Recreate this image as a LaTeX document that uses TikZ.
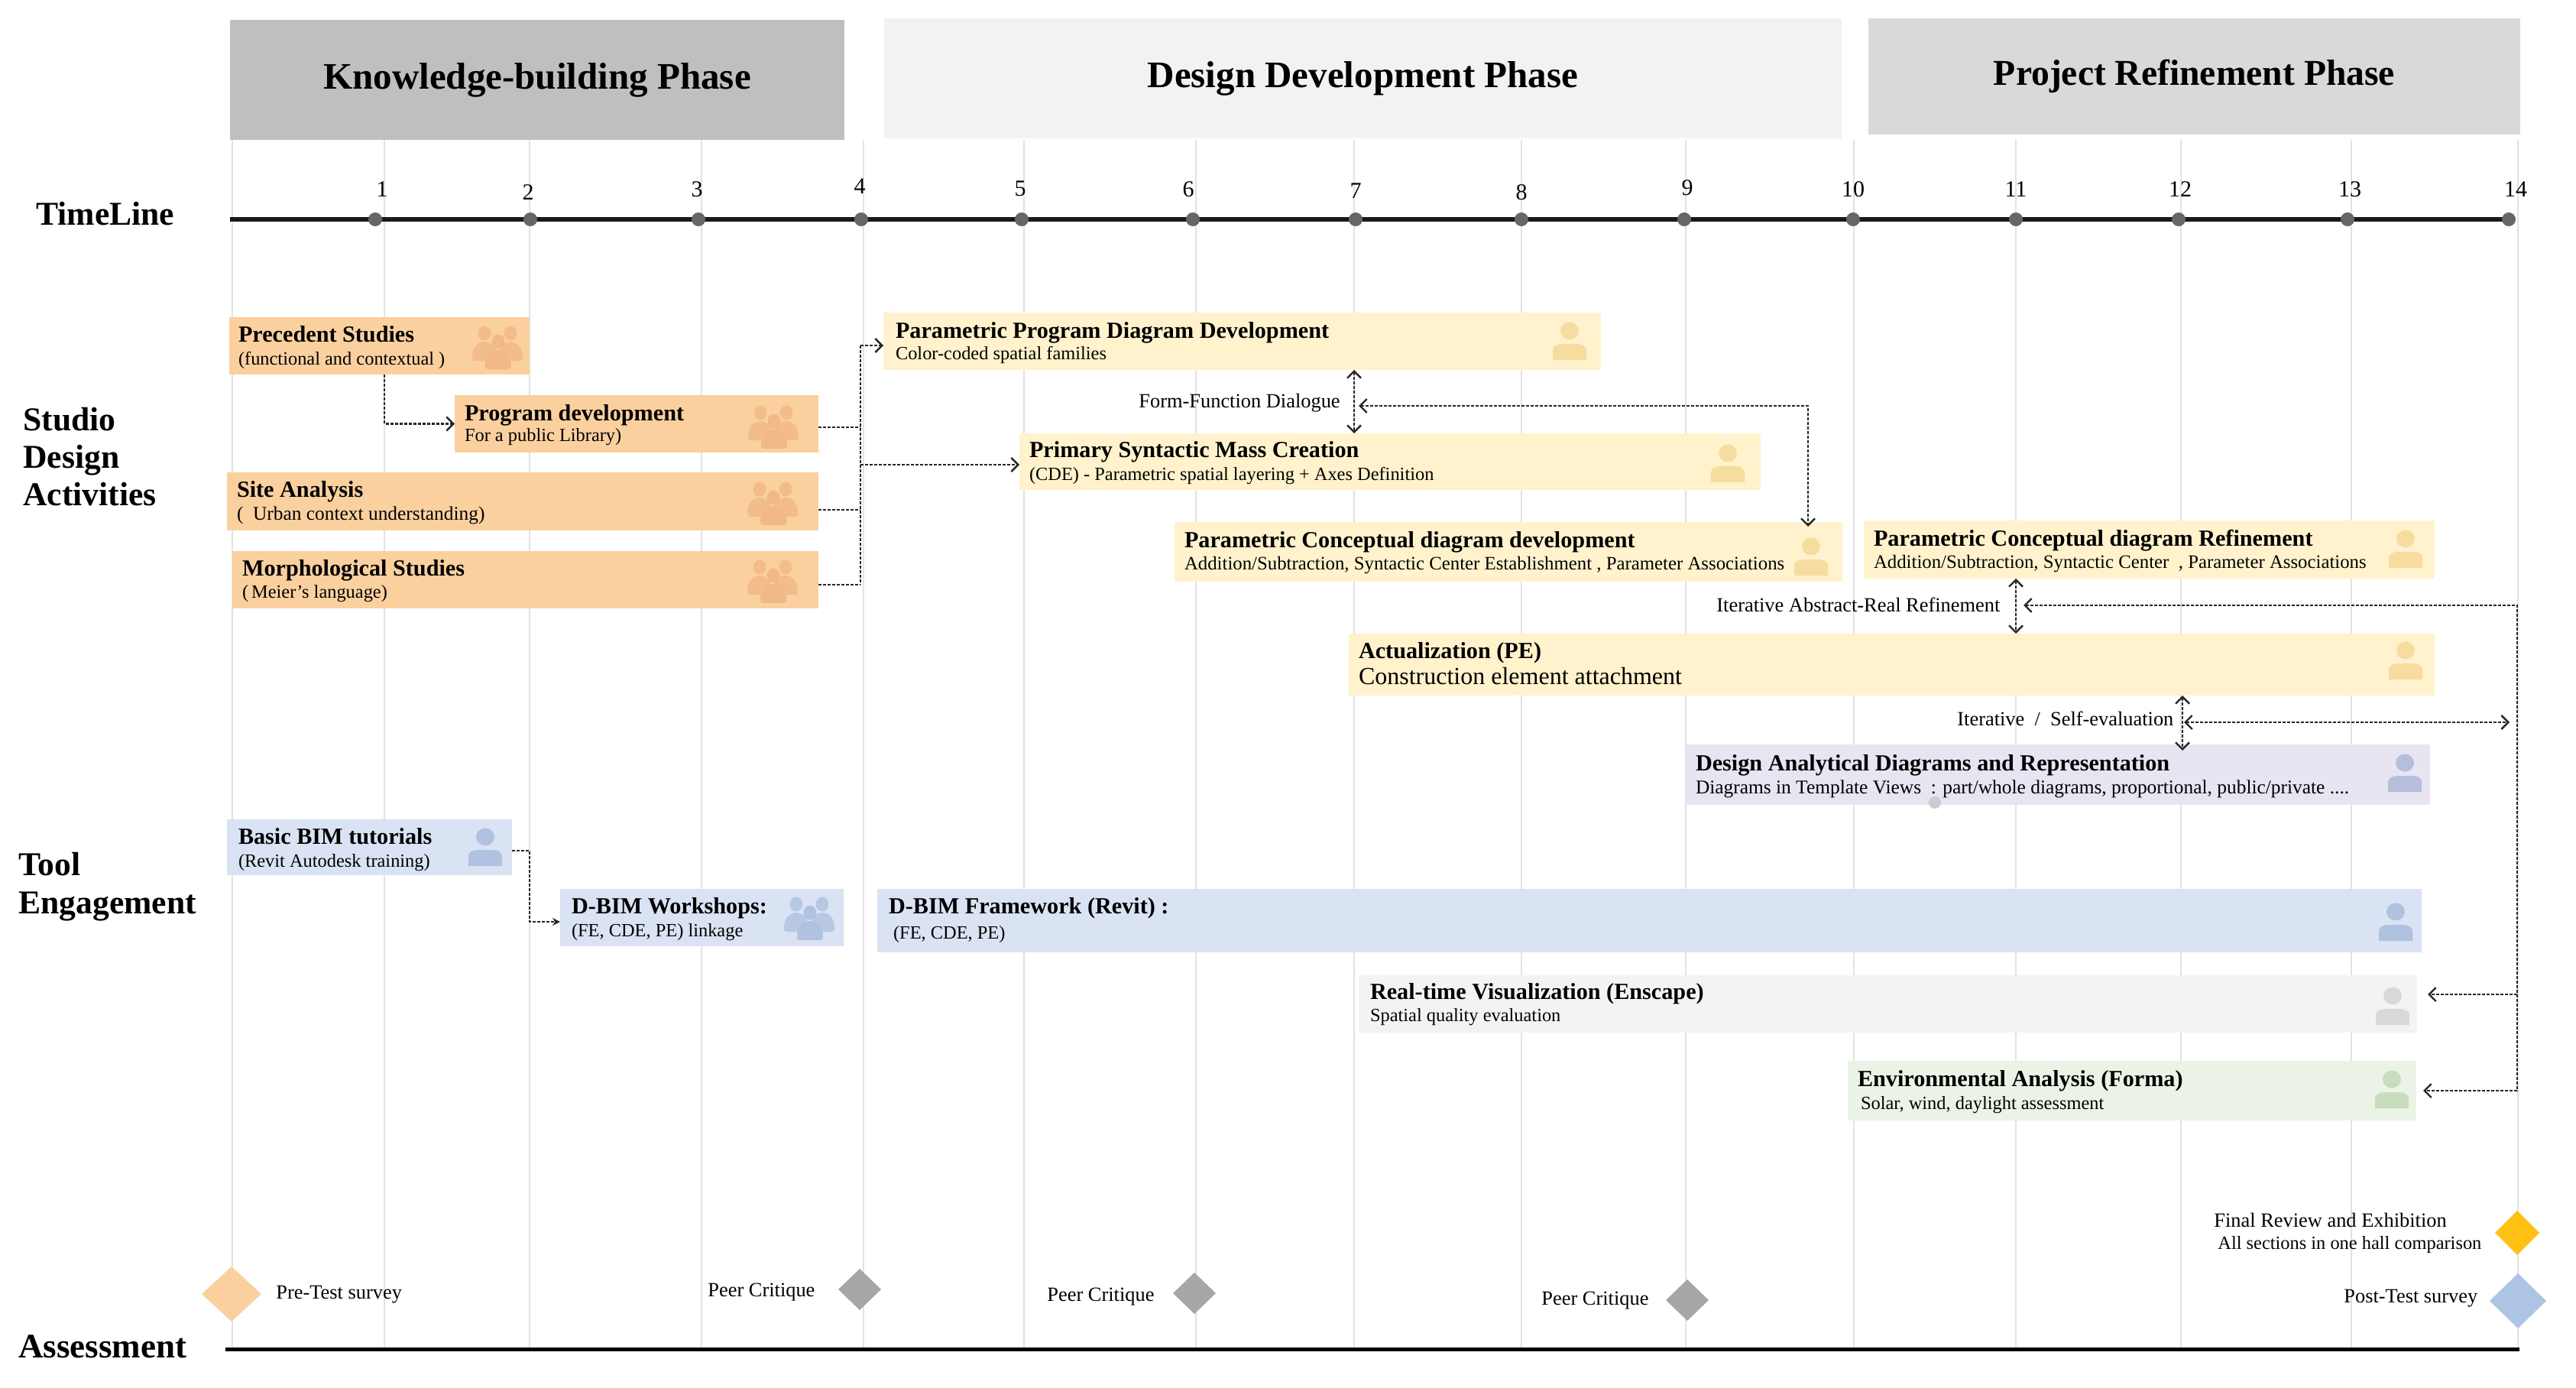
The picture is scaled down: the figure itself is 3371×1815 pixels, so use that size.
\documentclass[tikz,border=0pt]{standalone}
\usepackage{fontspec}
\setmainfont{Liberation Serif}
\usetikzlibrary{arrows.meta,shapes.geometric,calc}
\definecolor{orbox}{HTML}{FBD09F}
\definecolor{oricon}{HTML}{F0B987}
\definecolor{yebox}{HTML}{FFF2CC}
\definecolor{yeicon}{HTML}{F6DC9E}
\definecolor{blbox}{HTML}{DAE3F3}
\definecolor{blicon}{HTML}{B0C2DF}
\definecolor{pubox}{HTML}{E9E4F1}
\definecolor{puicon}{HTML}{B6BEDC}
\definecolor{grbox}{HTML}{F3F3F3}
\definecolor{gricon}{HTML}{D9D9D9}
\definecolor{gnbox}{HTML}{EAF3E5}
\definecolor{gnicon}{HTML}{C8DDBE}
\definecolor{gridc}{HTML}{E2E2E2}
\definecolor{goldgem}{HTML}{FFC014}
\definecolor{bluegem}{HTML}{AEC4E5}
\tikzset{
  x=0.5pt,y=-0.5pt,
  actstyle/.style={anchor=north west,inner sep=0pt,outer sep=0pt,fill=#1},
  phase/.style={anchor=north west,inner sep=0pt,outer sep=0pt,fill=#1,font=\fontsize{24.5}{26}\selectfont\bfseries,align=center},
  sidelabel/.style={anchor=base west,inner sep=0pt,font=\fontsize{21.8}{24}\selectfont\bfseries},
  small/.style={anchor=base west,inner sep=0pt,font=\fontsize{13.2}{15}\selectfont},
  tick/.style={inner sep=0pt,font=\fontsize{15}{17}\selectfont},
  dot/.style={circle,fill=black!60,inner sep=0pt,minimum size=9pt},
  gem/.style={diamond,fill=#1,inner sep=0pt,outer sep=0pt},
  dashln/.style={draw=black!85,line width=1.2pt,dash pattern=on 2pt off 1pt},
  flow/.style={dashln,-{Straight Barb[length=4.5pt,width=9pt]}},
  flowb/.style={dashln,{Straight Barb[length=4.5pt,width=9pt]}-{Straight Barb[length=4.5pt,width=9pt]}},
  flowr/.style={dashln,{Straight Barb[length=4.5pt,width=9pt]}-},
  flowf/.style={dashln,line width=.9pt,-{Stealth[length=5pt,width=5pt]}},
}
\newcommand\ttlfont{\fontsize{15.1}{17}\selectfont\bfseries}
\newcommand\subfont{\fontsize{12.2}{14}\selectfont}
\newcommand\actbox[9]{\def\bxn{#1}\def\bxs{#2}\def\bxa{#3}\def\bxb{#4}\def\bxc{#5}\def\bxd{#6}\def\bxp{#7}\def\bxt{#8}\def\bxu{#9}\actboxii}
\newcommand\actboxii[2]{%
  \node[actstyle=\bxs] (\bxn) at (\bxa,\bxb) {\vbox to \dimexpr(\bxd pt-\bxb pt)/2\relax{\offinterlineskip
    \hbox to \dimexpr(\bxc pt-\bxa pt)/2\relax{}%
    \vskip\dimexpr(\bxt pt-\bxb pt)/2\relax
    \hbox{\hskip\dimexpr(\bxp pt)/2\relax\smash{\ttlfont #1}}%
    \vskip\dimexpr(\bxu pt-\bxt pt)/2\relax
    \hbox{\hskip\dimexpr(\bxp pt)/2\relax\smash{\subfont #2}}%
    \vfill}};}
\newcommand\person[3]{\begin{scope}[shift={(#1,#2)}]
  \fill[#3] (0,12) ellipse [x radius=12,y radius=11.5];
  \fill[#3] (-22,50) -- (-22,38) .. controls (-22,31) and (-16,29) .. (-8,29) -- (8,29) .. controls (16,29) and (22,31) .. (22,38) -- (22,50) -- cycle;
\end{scope}}
\newcommand\onefig[5]{\begin{scope}[shift={(#1,#2)}]
  \fill[#3] (0,#4) ellipse [x radius=8.5,y radius=9.5];
  \fill[#3] (-#5+3,#4+36) .. controls (-#5,#4+36) and (-#5,#4+34) .. (-#5,#4+30) .. controls (-#5,#4+18) and (-8,#4+11) .. (0,#4+11) .. controls (8,#4+11) and (#5,#4+18) .. (#5,#4+30) .. controls (#5,#4+34) and (#5,#4+36) .. (#5-3,#4+36) -- cycle;
\end{scope}}
\newcommand\team[3]{%
  \onefig{#1-18}{#2}{#3,opacity=.8}{9}{16}
  \onefig{#1+16}{#2}{#3,opacity=.8}{9}{16}
  \onefig{#1}{#2}{#3}{20}{17}
}
\begin{document}
\begin{tikzpicture}
\useasboundingbox (0,0) rectangle (3371,1815);
% phases
\node[phase=black!25,minimum width=402pt,minimum height=78.5pt] (p1) at (301,26) {Knowledge-building Phase};
\node[phase=black!5,minimum width=626.5pt,minimum height=78.5pt] (p2) at (1157,24) {Design Development Phase};
\node[phase=black!15,minimum width=426.5pt,minimum height=76pt,font=\fontsize{23.8}{26}\selectfont\bfseries] (p3) at (2445,24) {Project Refinement Phase};
% grid
\foreach \gx in {304,503,693,918,1130,1340,1565,1772,1991,2206,2426,2638,2854,3077,3295}
  \draw[gridc,line width=1pt] (\gx,183) -- (\gx,1765);
% timeline
\coordinate (tl0) at (301,287);
\coordinate (tl1) at (3290,287);
\draw[black!90,line width=3pt] (tl0) -- (tl1);
\foreach \n/\dx/\lx/\ly in {1/491/500/248,2/694/691/252,3/914/912/248,4/1127/1125/244,5/1337/1335/247,6/1561/1555/248,7/1774/1774/250,8/1991/1991/252,9/2204/2208/246,10/2425/2425/248,11/2638/2638/248,12/2851/2853/248,13/3072/3075/248,14/3283/3292/248}{
  \node[dot] (d\n) at (\dx,287) {};
  \node[tick] (n\n) at (\lx,\ly) {\n};
}
\node[sidelabel] (ltime) at (47,294) {TimeLine};
\node[sidelabel] (ls1) at (30,563) {Studio};
\node[sidelabel] (ls2) at (30,612) {Design};
\node[sidelabel] (ls3) at (30,661) {Activities};
\node[sidelabel] (lt1) at (24,1145) {Tool};
\node[sidelabel] (lt2) at (24,1195) {Engagement};
\node[sidelabel,font=\fontsize{22.5}{24}\selectfont\bfseries] (la) at (24,1776) {Assessment};
% boxes
\actbox{prec}{orbox}{300}{415}{693}{490}{12}{447}{477}{Precedent Studies}{(functional and contextual )}
\actbox{prog}{orbox}{595}{517}{1071}{592}{13}{550}{577}{Program development}{For a public Library)}
\actbox{site}{orbox}{297}{618}{1071}{694}{13}{650}{680}{Site Analysis}{\fontsize{12.7}{14}\selectfont(\ \ Urban context understanding)}
\actbox{morph}{orbox}{304}{721}{1071}{796}{13}{753}{782}{Morphological Studies}{(\,Meier's language)}
\actbox{ppd}{yebox}{1156}{409}{2095}{484}{16}{442}{470}{Parametric Program Diagram Development}{Color-coded spatial families}
\actbox{psm}{yebox}{1334}{567}{2304}{641}{13}{598}{628}{Primary Syntactic Mass Creation}{(CDE) - Parametric spatial layering + Axes Definition}
\actbox{pcd}{yebox}{1537}{683}{2411}{761}{13}{716}{745}{Parametric Conceptual diagram development}{\fontsize{12.4}{14}\selectfont Addition/Subtraction, Syntactic Center Establishment , Parameter Associations}
\actbox{pcr}{yebox}{2439}{681}{3186}{757}{13}{714}{743}{Parametric Conceptual diagram Refinement}{\fontsize{12.4}{14}\selectfont Addition/Subtraction, Syntactic Center\ \ , Parameter Associations}
\actbox{act}{yebox}{1765}{829}{3186}{910}{13}{861}{895}{Actualization (PE)}{\fontsize{16}{18}\selectfont Construction element attachment}
\actbox{dad}{pubox}{2206}{974}{3180}{1053}{13}{1008}{1038}{Design Analytical Diagrams and Representation}{\fontsize{12.7}{14}\selectfont Diagrams in Template Views\ \ : part/whole diagrams, proportional, public/private ....}
\actbox{bim}{blbox}{297}{1072}{670}{1145}{15}{1104}{1134}{Basic BIM tutorials}{(Revit Autodesk training)}
\actbox{wsh}{blbox}{733}{1163}{1104}{1238}{15}{1195}{1225}{D-BIM Workshops:}{(FE, CDE, PE) linkage}
\actbox{dbf}{blbox}{1148}{1163}{3169}{1246}{15}{1195}{1228}{D-BIM Framework (Revit) :}{\ (FE, CDE, PE)}
\actbox{rtv}{grbox}{1778}{1276}{3163}{1351}{15}{1307}{1336}{Real-time Visualization (Enscape)}{Spatial quality evaluation}
\actbox{env}{gnbox}{2418}{1388}{3162}{1466}{13}{1421}{1451}{Environmental Analysis (Forma)}{\,Solar, wind, daylight assessment}
% icons
\team{652}{427}{oricon}
\team{1013}{531}{oricon}
\team{1012}{631}{oricon}
\team{1012}{733}{oricon}
\team{1060}{1174}{blicon}
\person{2054}{421}{yeicon}
\person{2261}{581}{yeicon}
\person{2370}{703}{yeicon}
\person{3148}{693}{yeicon}
\person{3148}{839}{yeicon}
\person{3147}{986}{puicon}
\person{635}{1083}{blicon}
\person{3135}{1181}{blicon}
\person{3131}{1291}{gricon}
\person{3130}{1400}{gnicon}
\fill[black!20] (2532,1050) circle (8);
% connector labels
\node[small] (lff) at (1490,533) {Form-Function Dialogue};
\node[small] (lar) at (2246,800) {Iterative Abstract-Real Refinement};
\node[small] (lse) at (2561,949) {Iterative\ \ /\ \ Self-evaluation};
% connectors
\coordinate (j1) at (503,490);
\draw[flow] (j1) |- (prog.west);
\coordinate (bt) at (1126,452);
\coordinate (bb) at (1126,765);
\coordinate (b2) at (1126,559);
\coordinate (b3) at (1126,667);
\coordinate (b4) at (1126,608);
\draw[dashln] (bt) -- (bb);
\draw[flow] (bt) -- (ppd.west |- bt);
\draw[dashln] (prog.east |- b2) -- (b2);
\draw[dashln] (site.east |- b3) -- (b3);
\draw[dashln] (morph.east |- bb) -- (bb);
\draw[flow] (b4) -- (psm.west |- b4);
\coordinate (ff) at (1772,531);
\coordinate (ffa) at (1778,531);
\coordinate (ffb) at (2366,531);
\coordinate (ffc) at (2366,689);
\draw[flowb] (ppd.south -| ff) -- (psm.north -| ff);
\draw[flowb] (ffa) -- (ffb) -- (ffc);
\coordinate (ar) at (2638,792);
\coordinate (ara) at (2648,792);
\coordinate (arb) at (3294,792);
\coordinate (arc) at (3294,1301);
\coordinate (ard) at (3294,1427);
\coordinate (are) at (3177,1301);
\coordinate (arf) at (3171,1427);
\draw[flowb] (pcr.south -| ar) -- (act.north -| ar);
\draw[flowr] (ara) -- (arb) -- (ard);
\draw[flow] (arc) -- (are);
\draw[flow] (ard) -- (arf);
\coordinate (se) at (2856,945);
\coordinate (sea) at (2858,945);
\coordinate (seb) at (3284,945);
\draw[flowb] (act.south -| se) -- ($(dad.north -| se)+(0,8)$);
\draw[flowb] (sea) -- (seb);
\coordinate (k1) at (693,1113);
\coordinate (k2) at (693,1206);
\draw[flowf] (bim.east |- k1) -- (k1) -- (k2) -- (wsh.west |- k2);
% assessment
\coordinate (as0) at (295,1765);
\coordinate (as1) at (3297,1765);
\draw[black,line width=2.5pt] (as0) -- (as1);
\node[gem=orbox,minimum width=39pt,minimum height=36pt] (g1) at (303,1693) {};
\node[gem=black!35,minimum width=28pt,minimum height=27pt] (g2) at (1125,1687) {};
\node[gem=black!35,minimum width=28pt,minimum height=27pt] (g3) at (1563,1692) {};
\node[gem=black!35,minimum width=28pt,minimum height=27pt] (g4) at (2208,1701) {};
\node[gem=goldgem,minimum width=29pt,minimum height=29pt] (g5) at (3294,1613) {};
\node[gem=bluegem,minimum width=37pt,minimum height=36pt] (g6) at (3295,1702) {};
\node[small] (t1) at (361,1699) {Pre-Test survey};
\node[small] (t2) at (926,1696) {Peer Critique};
\node[small] (t3) at (1370,1702) {Peer Critique};
\node[small] (t4) at (2017,1707) {Peer Critique};
\node[small] (t5) at (2897,1605) {Final Review and Exhibition};
\node[small,font=\fontsize{12.2}{14}\selectfont] (t6) at (2902,1634) {All sections in one hall comparison};
\node[small] (t7) at (3067,1704) {Post-Test survey};
\end{tikzpicture}
\end{document}
